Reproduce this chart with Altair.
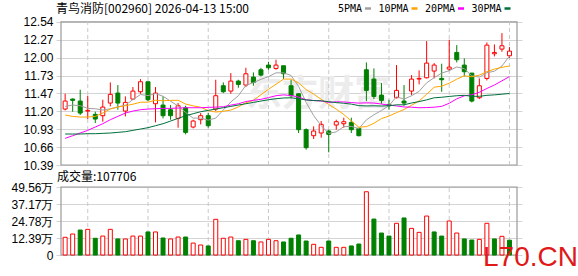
import altair as alt
import pandas as pd

# ---------------- data ----------------
dates = ["01-09", "01-12", "01-13", "01-14", "01-15", "01-16", "01-19", "01-20", "01-21", "01-22",
         "01-23", "01-26", "01-27", "01-28", "01-29", "01-30", "02-02", "02-03", "02-04", "02-05",
         "02-06", "02-09", "02-10", "02-11", "02-12", "02-13", "02-24", "02-25", "02-26", "02-27",
         "03-02", "03-03", "03-04", "03-05", "03-06", "03-09", "03-10", "03-11", "03-12", "03-13",
         "03-16", "03-17", "03-18", "03-19", "03-20", "03-23", "03-24", "03-25", "03-26", "03-27",
         "03-30", "03-31", "04-01", "04-02", "04-03", "04-07", "04-08", "04-09", "04-10", "04-13"]

opens = [11.23, 11.38, 11.35, 11.20, 11.15, 11.13, 11.32, 11.47, 11.20, 11.38,
         11.49, 11.64, 11.31, 11.29, 11.22, 11.09, 11.25, 10.96, 11.07, 11.13,
         11.23, 11.58, 11.50, 11.65, 11.59, 11.71, 11.82, 11.89, 11.84, 11.88,
         11.58, 11.46, 10.92, 10.83, 10.87, 10.90, 10.99, 11.01, 11.03, 10.94,
         11.82, 11.68, 11.44, 11.30, 11.40, 11.35, 11.50, 11.68, 11.70, 11.80,
         11.69, 11.83, 12.08, 11.89, 11.77, 11.40, 11.69, 12.06, 12.13, 12.03]
highs = [11.46, 11.39, 11.52, 11.43, 11.19, 11.37, 11.63, 11.59, 11.42, 11.56,
         11.68, 11.64, 11.56, 11.42, 11.29, 11.32, 11.28, 11.07, 11.17, 11.17,
         11.67, 11.63, 11.77, 11.67, 11.85, 11.78, 11.85, 11.94, 11.97, 11.88,
         11.67, 11.46, 10.94, 10.97, 11.05, 10.92, 11.07, 11.10, 11.10, 10.95,
         11.93, 11.84, 11.62, 11.37, 11.89, 11.59, 11.74, 11.81, 12.25, 11.92,
         11.91, 12.27, 12.19, 11.99, 11.77, 11.69, 12.23, 12.20, 12.37, 12.16]
lows = [11.21, 11.19, 11.14, 11.08, 11.02, 11.04, 11.27, 11.22, 11.12, 11.37,
        11.46, 11.35, 11.03, 11.09, 11.07, 10.95, 10.85, 10.94, 11.00, 10.95,
        11.20, 11.47, 11.46, 11.55, 11.56, 11.58, 11.72, 11.82, 11.82, 11.68,
        11.39, 10.87, 10.62, 10.78, 10.80, 10.58, 10.92, 10.95, 10.87, 10.82,
        11.35, 11.38, 11.31, 11.22, 11.39, 11.28, 11.44, 11.60, 11.69, 11.69,
        11.49, 11.80, 11.93, 11.72, 11.33, 11.38, 11.66, 12.02, 12.09, 12.00]
closes = [11.35, 11.36, 11.17, 11.21, 11.08, 11.26, 11.45, 11.32, 11.33, 11.50,
          11.64, 11.37, 11.47, 11.13, 11.13, 11.28, 10.88, 11.05, 11.13, 10.98,
          11.43, 11.49, 11.65, 11.60, 11.76, 11.63, 11.74, 11.85, 11.89, 11.76,
          11.43, 10.92, 10.65, 10.90, 11.00, 10.85, 11.04, 11.04, 10.92, 10.83,
          11.51, 11.42, 11.36, 11.28, 11.51, 11.32, 11.68, 11.69, 11.92, 11.89,
          11.67, 11.86, 11.97, 11.79, 11.35, 11.58, 12.19, 12.08, 12.18, 12.10]
# volume in 万 (10k shares)
volumes = [12.9, 15.3, 18.2, 18.7, 12.2, 13.8, 18.7, 11.7, 11.7, 13.8,
           13.8, 16.8, 16.8, 12.4, 11.7, 13.1, 13.1, 8.7, 7.3, 6.6,
           26.0, 12.2, 13.1, 10.4, 11.4, 10.4, 9.5, 11.4, 10.4, 9.5,
           12.2, 14.6, 10.2, 7.8, 5.6, 10.2, 5.6, 5.6, 6.6, 8.0,
           46.1, 26.2, 16.0, 13.8, 23.1, 27.0, 19.4, 16.5, 28.4, 16.8,
           13.8, 24.8, 16.0, 11.7, 10.9, 11.4, 23.1, 11.7, 13.6, 10.77]

ma5 = [11.27, 11.29, 11.28, 11.24, 11.234, 11.216, 11.234, 11.264, 11.288, 11.372,
       11.448, 11.432, 11.462, 11.422, 11.348, 11.276, 11.178, 11.094, 11.094, 11.064,
       11.094, 11.216, 11.336, 11.43, 11.586, 11.626, 11.676, 11.716, 11.774, 11.774,
       11.734, 11.57, 11.33, 11.132, 10.98, 10.864, 10.888, 10.966, 10.97, 10.936,
       11.068, 11.144, 11.208, 11.28, 11.416, 11.378, 11.43, 11.496, 11.624, 11.70,
       11.77, 11.806, 11.862, 11.836, 11.728, 11.71, 11.776, 11.798, 11.876, 12.026]
ma10 = [11.14, 11.12, 11.11, 11.11, 11.12, 11.17, 11.23, 11.26, 11.28, 11.303,
        11.332, 11.333, 11.363, 11.355, 11.36, 11.362, 11.305, 11.278, 11.258, 11.206,
        11.185, 11.197, 11.215, 11.262, 11.325, 11.36, 11.446, 11.526, 11.602, 11.68,
        11.68, 11.623, 11.523, 11.453, 11.377, 11.299, 11.229, 11.148, 11.051, 10.958,
        10.966, 11.016, 11.087, 11.125, 11.176, 11.223, 11.287, 11.352, 11.452, 11.558,
        11.574, 11.618, 11.679, 11.73, 11.714, 11.74, 11.791, 11.83, 11.856, 11.877]
ma20 = [10.79, 10.83, 10.87, 10.91, 10.96, 11.01, 11.07, 11.12, 11.17, 11.20,
        11.22, 11.23, 11.235, 11.24, 11.24, 11.245, 11.25, 11.25, 11.25, 11.255,
        11.259, 11.265, 11.289, 11.309, 11.343, 11.361, 11.376, 11.402, 11.43, 11.443,
        11.433, 11.41, 11.369, 11.358, 11.351, 11.33, 11.338, 11.337, 11.327, 11.319,
        11.323, 11.32, 11.305, 11.289, 11.277, 11.261, 11.258, 11.25, 11.252, 11.258,
        11.27, 11.317, 11.383, 11.428, 11.445, 11.482, 11.539, 11.591, 11.654, 11.718]
ma30 = [10.855, 10.855, 10.855, 10.86, 10.86, 10.865, 10.87, 10.88, 10.89, 10.91,
        10.93, 10.95, 10.98, 11.01, 11.05, 11.09, 11.13, 11.16, 11.19, 11.21,
        11.23, 11.25, 11.27, 11.29, 11.31, 11.33, 11.35, 11.37, 11.385, 11.396,
        11.399, 11.384, 11.367, 11.357, 11.354, 11.34, 11.327, 11.317, 11.304, 11.281,
        11.277, 11.279, 11.275, 11.28, 11.293, 11.294, 11.321, 11.342, 11.368, 11.399,
        11.407, 11.419, 11.43, 11.436, 11.422, 11.421, 11.436, 11.443, 11.453, 11.464]

title_text = "青鸟消防[002960] 2026-04-13 15:00"
volume_caption = "成交量:107706"
ma_names = ["5PMA", "10PMA", "20PMA", "30PMA"]
date_ticks = ["01-14", "01-26", "02-05", "02-25", "03-09", "03-19", "03-31", "04-13"]
price_ticks = [10.39, 10.66, 10.93, 11.20, 11.47, 11.73, 12.00, 12.27, 12.54]
vol_ticks = [0, 12.39, 24.78, 37.17, 49.56]
watermark_text = "东方财富"
site_text = "L70.CN"

# ---------------- styles / layout ----------------
RED = "#ff0000"
GREEN = "#008000"
MA_COLORS = ["#a0a0a0", "#ffa500", "#ff00ff", "#006f3c"]
GRID = "#d4d4d4"
FRAME = "#9a9a9a"
DASH = "#c8c8c8"
CJK = "Noto Sans CJK SC"
SANS = "Liberation Sans"
MONO = "DejaVu Sans Mono"

W, H = 466, 255
PAD = {"left": 56, "top": 0, "right": 56, "bottom": 21}
PRICE_RANGE = [165, 21.8]
VOL_RANGE = [255, 187]

n = len(dates)
x_scale = alt.Scale(domain=[-0.55, n], nice=False, zero=False)
price_scale = alt.Scale(domain=[price_ticks[0], price_ticks[-1]], range=PRICE_RANGE, nice=False, zero=False)
vol_scale = alt.Scale(domain=[vol_ticks[0], vol_ticks[-1]], range=VOL_RANGE, nice=False, zero=False)
dir_dom = ["up", "down"]

# ---------------- tables ----------------
df = pd.DataFrame({"i": range(n), "date": dates, "open": opens, "high": highs,
                   "low": lows, "close": closes, "vol": volumes})
df["zero"] = 0.0
df["cdir"] = ["up" if c >= o else "down" for o, c in zip(df.open, df.close)]
prev = df.close.shift(1).fillna(df.open)
df["vdir"] = ["up" if c >= p else "down" for c, p in zip(df.close, prev)]

ma_df = pd.concat([pd.DataFrame({"i": range(n), "v": arr, "name": nm})
                   for nm, arr in zip(ma_names, [ma5, ma10, ma20, ma30])], ignore_index=True)

tick_idx = [dates.index(d) for d in date_ticks]
vline_df = pd.DataFrame({"i": tick_idx, "plo": price_ticks[0], "phi": price_ticks[-1],
                         "vlo": vol_ticks[0], "vhi": vol_ticks[-1]})
frame_df = pd.DataFrame({"x0": [-0.55], "x1": [n], "plo": [price_ticks[0]], "phi": [price_ticks[-1]],
                         "vlo": [vol_ticks[0]], "vhi": [vol_ticks[-1]]})

# legend layout (pixels in view coords)
leg_rows = []
lx = 338 - 56
for nm, colr in zip(ma_names, MA_COLORS):
    tw = len(nm) * 6.0
    m0 = lx + tw + 3
    leg_rows.append({"name": nm, "tx": lx, "m0": m0, "m1": m0 + 6, "col": colr})
    lx = m0 + 6 + 7.5
leg_df = pd.DataFrame(leg_rows)

label_js = "[" + ",".join("'%s'" % d for d in dates) + "]"

X = lambda ax=None: alt.X("i:Q", scale=x_scale, axis=ax)

x_axis = alt.Axis(values=tick_idx, labelExpr=label_js + "[datum.value]", orient="bottom",
                  domain=False, ticks=False, grid=False, labelColor=RED, labelFont=SANS,
                  labelFontSize=12, labelPadding=5, title=None, labelFlush=False,
                  labelOverlap=False)
price_axis = alt.Axis(values=price_ticks, format=".2f", orient="left", domain=False, ticks=False,
                      grid=True, gridColor=GRID, gridWidth=1, labelFont=SANS, labelFontSize=12,
                      labelColor="#000000", labelPadding=3, title=None, labelOverlap=False,
                      labelFlush=False)
vol_axis = alt.Axis(values=vol_ticks, orient="left", domain=False, ticks=False,
                    labelExpr="datum.value == 0 ? '0' : format(datum.value, '.2f') + '万'",
                    grid=True, gridColor=GRID, gridWidth=1, labelFont=SANS, labelFontSize=12,
                    labelColor="#000000", labelPadding=3, title=None, labelOverlap=False,
                    labelFlush=False)

def one(text):
    return pd.DataFrame({"t": [text]})

watermark = alt.Chart(one(watermark_text)).mark_text(
    align="center", baseline="middle", font=CJK, fontSize=36, fontWeight="bold",
    color="#ececec").encode(x=alt.value(262), y=alt.value(95), text="t:N")

frame_p = alt.Chart(frame_df).mark_rect(fill="white", fillOpacity=0, stroke=FRAME, strokeWidth=1.2).encode(
    x=alt.X("x0:Q", scale=x_scale, axis=x_axis), x2="x1:Q",
    y=alt.Y("plo:Q", scale=price_scale, axis=None), y2="phi:Q")
frame_v = alt.Chart(frame_df).mark_rect(fill="white", fillOpacity=0, stroke=FRAME, strokeWidth=1.2).encode(
    x=alt.X("x0:Q", scale=x_scale, axis=None), x2="x1:Q",
    y=alt.Y("vlo:Q", scale=vol_scale, axis=None), y2="vhi:Q")

vl_p = alt.Chart(vline_df).mark_rule(color=DASH, strokeWidth=1, strokeDash=[4, 3]).encode(
    x=X(), y=alt.Y("plo:Q", scale=price_scale, axis=None), y2="phi:Q")
vl_v = alt.Chart(vline_df).mark_rule(color=DASH, strokeWidth=1, strokeDash=[4, 3]).encode(
    x=X(), y=alt.Y("vlo:Q", scale=vol_scale, axis=None), y2="vhi:Q")

vol_bars = alt.Chart(df).mark_bar(size=4, strokeWidth=1).encode(
    x=X(), y=alt.Y("vol:Q", scale=vol_scale, axis=vol_axis), y2="zero:Q",
    fill=alt.Fill("vdir:N", scale=alt.Scale(domain=dir_dom, range=["#ffffff", GREEN]), legend=None),
    stroke=alt.Stroke("vdir:N", scale=alt.Scale(domain=dir_dom, range=[RED, GREEN]), legend=None))

wicks = alt.Chart(df).mark_rule(strokeWidth=1).encode(
    x=X(), y=alt.Y("low:Q", scale=price_scale, axis=None), y2="high:Q",
    color=alt.Color("cdir:N", scale=alt.Scale(domain=dir_dom, range=[RED, GREEN]), legend=None))

bodies = alt.Chart(df).mark_bar(size=4, strokeWidth=1).encode(
    x=X(), y=alt.Y("open:Q", scale=price_scale, axis=None), y2="close:Q",
    fill=alt.Fill("cdir:N", scale=alt.Scale(domain=dir_dom, range=["#ffffff", GREEN]), legend=None),
    stroke=alt.Stroke("cdir:N", scale=alt.Scale(domain=dir_dom, range=[RED, GREEN]), legend=None))

ma_lines = alt.Chart(ma_df).mark_line(strokeWidth=1).encode(
    x=X(), y=alt.Y("v:Q", scale=price_scale, axis=price_axis),
    color=alt.Color("name:N", scale=alt.Scale(domain=ma_names, range=MA_COLORS), legend=None))

title_mark = alt.Chart(one(title_text)).mark_text(
    align="left", baseline="middle", font=CJK, fontSize=12, color="#000000").encode(
    x=alt.value(0), y=alt.value(8.5), text="t:N")

caption = alt.Chart(one(volume_caption)).mark_text(
    align="left", baseline="middle", font=CJK, fontSize=12, color="#000000").encode(
    x=alt.value(1), y=alt.value(177), text="t:N")

leg_text = alt.Chart(leg_df).mark_text(
    align="left", baseline="middle", font=MONO, fontSize=10, color="#000000").encode(
    x=alt.X("tx:Q", scale=None), y=alt.value(8.5), text="name:N")
leg_mark = alt.Chart(leg_df).mark_rule(strokeWidth=2.5).encode(
    x=alt.X("m0:Q", scale=None), x2="m1:Q", y=alt.value(8.5),
    color=alt.Color("col:N", scale=None))

site = alt.Chart(one(site_text)).mark_text(
    align="left", baseline="alphabetic", font=SANS, fontSize=28, color="#e01818").encode(
    x=alt.value(427), y=alt.value(266), text="t:N")

chart = alt.layer(
    watermark, frame_p, frame_v, vl_p, vl_v, vol_bars, wicks, bodies, ma_lines,
    title_mark, caption, leg_text, leg_mark, site
).resolve_scale(
    y="independent", color="independent", fill="independent", stroke="independent"
).resolve_axis(y="independent").properties(
    width=W, height=H, padding=PAD, background="white",
    autosize=alt.AutoSizeParams(type="none"),
).configure_view(stroke="transparent")

chart.save("out.html", embed_options={"renderer": "svg", "actions": False})
